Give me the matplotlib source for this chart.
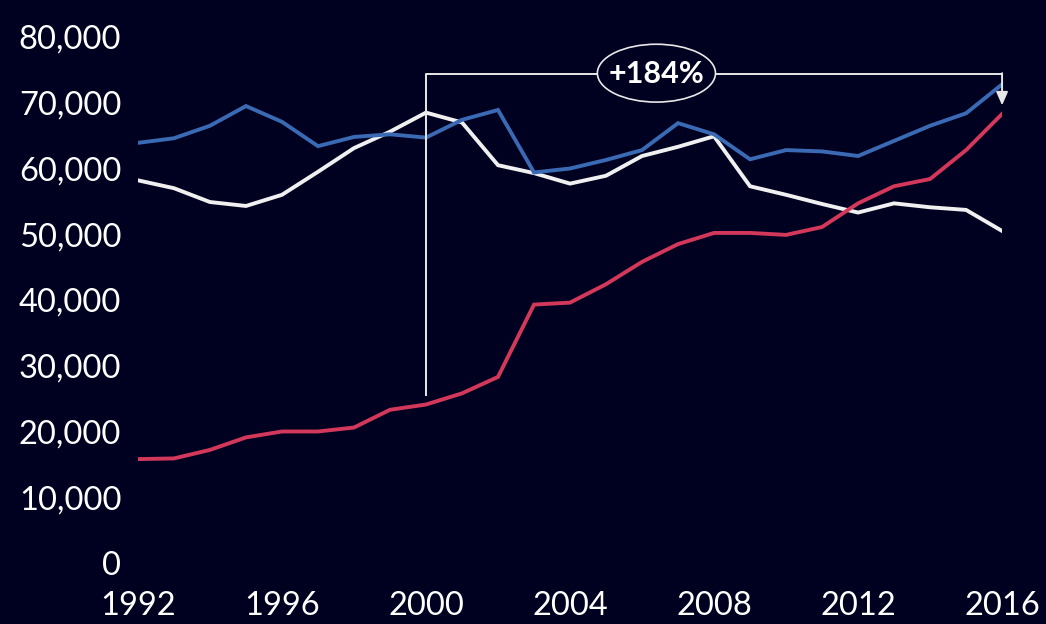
import matplotlib
matplotlib.use("Agg")
import matplotlib.pyplot as plt
from matplotlib.patches import Ellipse

years = list(range(1992, 2017))
blue = [63900, 64600, 66500, 69500, 67100, 63400, 64800, 65200, 64700, 67400, 68900,
        59400, 60000, 61300, 62800, 66900, 65200, 61400, 62800, 62600, 61900, 64200,
        66500, 68400, 72800]
white = [58200, 57000, 54900, 54300, 56000, 59500, 63100, 65600, 68500, 67000, 60500,
         59300, 57700, 58900, 61900, 63300, 64900, 57300, 56000, 54600, 53300, 54700,
         54100, 53700, 50500]
red = [15800, 15900, 17200, 19100, 20000, 20000, 20600, 23300, 24100, 25800, 28300,
       39300, 39600, 42400, 45800, 48500, 50200, 50200, 49900, 51100, 54700, 57300,
       58400, 62800, 68300]
yticks = [0, 10000, 20000, 30000, 40000, 50000, 60000, 70000, 80000]
xticks = [1992, 1996, 2000, 2004, 2008, 2012, 2016]
label = "+184%"

BG = "#000020"
plt.rcParams['font.family'] = ['Lato', 'DejaVu Sans']

fig = plt.figure(figsize=(10.46, 6.24), dpi=100, facecolor=BG)
ax = fig.add_axes([0.1319, 0.0978, 0.958 - 0.1319, 0.9407 - 0.0978])
ax.set_facecolor(BG)

ax.plot(years, white, color="#F0F0F0", lw=2.8, solid_joinstyle="miter", zorder=3)
ax.plot(years, red, color="#D3385B", lw=2.8, solid_joinstyle="miter", zorder=3)
ax.plot(years, blue, color="#3A6AB4", lw=2.8, solid_joinstyle="miter", zorder=4)

# annotation bracket
ax.plot([2000, 2000, 2016], [25600, 74400, 74400], color="#E8E8E8", lw=1.4,
        clip_on=False, zorder=5)
ax.annotate("", xy=(2016, 69600), xytext=(2016, 74500),
            arrowprops=dict(arrowstyle="-|>,head_length=0.8,head_width=0.35",
                            color="#E8E8E8", lw=1.4, shrinkA=0, shrinkB=0),
            zorder=6, annotation_clip=False)
ell = Ellipse((2006.4, 74500), width=3.28, height=8800, facecolor=BG,
              edgecolor="#E8E8E8", lw=1.2, zorder=6, clip_on=False)
ax.add_patch(ell)
ax.text(2006.4, 74400, label, color="white", fontsize=22, fontweight="bold",
        ha="center", va="center", zorder=7)

ax.set_xlim(1992, 2016)
ax.set_ylim(0, 80000)
ax.set_xticks(xticks)
ax.set_yticks(yticks)
ax.set_yticklabels([f"{v:,}" for v in yticks])
ax.tick_params(axis="both", length=0, colors="white", labelsize=23.5)
ax.tick_params(axis="y", pad=12)
ax.tick_params(axis="x", pad=20)
for s in ax.spines.values():
    s.set_visible(False)

fig.savefig("out.png", dpi=100, facecolor=BG)
